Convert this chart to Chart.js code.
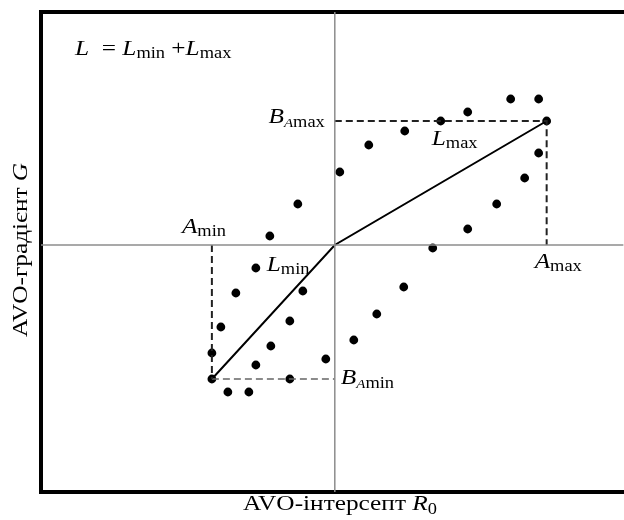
<!DOCTYPE html>
<html>
<head>
<meta charset="utf-8">
<script src="https://cdn.jsdelivr.net/npm/chart.js@4/dist/chart.umd.min.js"></script>
<style>
  html, body { margin: 0; padding: 0; background: #fff; overflow: hidden; }
  canvas { display: block; }
</style>
</head>
<body>
<canvas id="avo" width="628" height="520"></canvas>
<script>
// AVO cross-plot: intercept R0 (x) vs gradient G (y), relative units
const interceptR0 = [
  -3.7, -6.5, -7.9, -9.9, -3.2, -11.4, -4.5, -12.3, -6.4, -7.9,
  -0.9, -12.3, -4.5, -10.7, -8.6,
  17.6, 20.4, 13.3, 10.6, 21.2, 7.0, 3.4, 20.4, 0.5, 19.0,
  16.2, 13.3, 9.8, 6.9, 4.2, 1.9
];
const gradientG = [
  4.1, 0.9, -2.3, -4.8, -4.6, -8.2, -7.6, -10.8, -10.1, -12.0,
  -11.4, -13.4, -13.4, -14.7, -14.7,
  14.6, 14.6, 13.3, 12.4, 12.4, 11.4, 10.0, 9.2, 7.3, 6.7,
  4.1, 1.6, -0.3, -4.2, -6.9, -9.5
];

// extreme amplitudes and the gradients that go with them
const aMin = -12.3, bAmin = -13.4;
const aMax = 21.2,  bAmax = 12.4;

// visible extent of both axes
const xLimits = [-29.4, 28.9];
const yLimits = [-24.7, 23.3];

const FONT = '"Liberation Serif", "Times New Roman", serif';
const MAIN = 22, SUB = 16, SUBSUB = 13;
const WIDEN = 1.15;   // glyphs are set slightly wide along the baseline

// text pieces: string, size, italic, baseline shift
const seg = (t, size, it, dy) => ({ t, size, it: !!it, dy: dy || 0 });
const labels = {
  equation: [seg('L', MAIN, 1), seg('  = ', MAIN), seg('L', MAIN, 1), seg('min', SUB, 0, 3),
             seg(' +', MAIN), seg('L', MAIN, 1), seg('max', SUB, 0, 3)],
  aMin: [seg('A', MAIN, 1), seg('min', SUB, 0, 3)],
  aMax: [seg('A', MAIN, 1), seg('max', SUB, 0, 3)],
  bAmax: [seg('B', MAIN, 1), seg('A', SUBSUB, 1, 4), seg('max', SUB, 0, 4)],
  bAmin: [seg('B', MAIN, 1), seg('A', SUBSUB, 1, 4), seg('min', SUB, 0, 4)],
  lMin: [seg('L', MAIN, 1), seg('min', SUB, 0, 3)],
  lMax: [seg('L', MAIN, 1), seg('max', SUB, 0, 3)],
  xTitle: [seg('AVO-інтерсепт ', MAIN), seg('R', MAIN, 1), seg('0', SUB, 0, 4)],
  yTitle: [seg('AVO-градієнт ', MAIN), seg('G', MAIN, 1)]
};

function fontOf(s) { return (s.it ? 'italic ' : '') + s.size + 'px ' + FONT; }

function drawRich(ctx, segs, x, y, align, rotate) {
  ctx.save();
  ctx.translate(x, y);
  if (rotate) ctx.rotate(-Math.PI / 2);
  ctx.scale(WIDEN, 1);
  let w = 0;
  for (const s of segs) { ctx.font = fontOf(s); s.w = ctx.measureText(s.t).width; w += s.w; }
  let cx = align === 'center' ? -w / 2 : align === 'right' ? -w : 0;
  ctx.fillStyle = '#000';
  ctx.textBaseline = 'alphabetic';
  ctx.textAlign = 'left';
  for (const s of segs) {
    ctx.font = fontOf(s);
    ctx.fillText(s.t, cx, s.dy);
    cx += s.w;
  }
  ctx.restore();
}

const annotations = {
  id: 'annotations',
  afterDraw(chart) {
    const { ctx, scales: { x, y }, chartArea } = chart;
    const x0 = x.getPixelForValue(0), y0 = y.getPixelForValue(0);
    drawRich(ctx, labels.equation, chartArea.left + 34, chartArea.top + 43, 'left');
    drawRich(ctx, labels.aMin, x.getPixelForValue(aMin) - 30, y0 - 12, 'left');
    drawRich(ctx, labels.aMax, x.getPixelForValue(aMax) - 12, y0 + 23, 'left');
    drawRich(ctx, labels.bAmax, x0 - 10, y.getPixelForValue(bAmax) + 2, 'right');
    drawRich(ctx, labels.bAmin, x0 + 6, y.getPixelForValue(bAmin) + 5, 'left');
    drawRich(ctx, labels.lMin, x0 - 68, y0 + 26, 'left');
    drawRich(ctx, labels.lMax, x0 + 97, y0 - 100, 'left');
    drawRich(ctx, labels.xTitle, 340, 510, 'center');
    drawRich(ctx, labels.yTitle, 27, 250, 'center', true);
  }
};

const frameAxis = (pos, size) => ({
  type: 'linear',
  position: pos,
  display: true,
  ticks: { display: false },
  grid: { display: false, drawTicks: false },
  border: { display: true, color: '#000', width: 4 },
  title: { display: false },
  afterFit(scale) {
    if (pos === 'left') scale.width = size; else scale.height = size;
  }
});

const lineSet = (data, color, width, dash) => ({
  type: 'scatter',
  showLine: true,
  data,
  borderColor: color,
  borderWidth: width,
  borderDash: dash || [],
  pointRadius: 0,
  pointHoverRadius: 0,
  fill: false
});

new Chart(document.getElementById('avo'), {
  type: 'scatter',
  data: {
    datasets: [
      // coordinate axes through the origin
      lineSet([{ x: xLimits[0], y: 0 }, { x: xLimits[1], y: 0 }], '#8c8c8c', 1.5),
      lineSet([{ x: 0, y: yLimits[0] }, { x: 0, y: yLimits[1] }], '#8c8c8c', 1.5),
      // projections of the extreme points
      lineSet([{ x: aMin, y: 0 }, { x: aMin, y: bAmin }], '#222', 2, [7, 4]),
      lineSet([{ x: aMin, y: bAmin }, { x: 0, y: bAmin }], '#666', 1.5, [7, 4]),
      lineSet([{ x: 0, y: bAmax }, { x: aMax, y: bAmax }, { x: aMax, y: 0 }], '#222', 2, [7, 4]),
      // L = Lmin + Lmax
      lineSet([{ x: aMin, y: bAmin }, { x: 0, y: 0 }, { x: aMax, y: bAmax }], '#000', 2),
      {
        type: 'scatter',
        data: interceptR0.map((v, i) => ({ x: v, y: gradientG[i] })),
        backgroundColor: '#000',
        borderColor: '#000',
        borderWidth: 0,
        pointRadius: 4.4,
        pointHoverRadius: 4.4
      }
    ]
  },
  options: {
    responsive: false,
    animation: false,
    events: [],
    layout: { padding: 0 },
    plugins: { legend: { display: false }, tooltip: { enabled: false } },
    scales: {
      x: Object.assign(frameAxis('bottom', 28), { min: xLimits[0], max: xLimits[1] }),
      y: Object.assign(frameAxis('left', 41), { min: yLimits[0], max: yLimits[1] }),
      xTop: Object.assign(frameAxis('top', 12), { axis: 'x', min: xLimits[0], max: xLimits[1] })
    }
  },
  plugins: [annotations]
});
</script>
</body>
</html>
